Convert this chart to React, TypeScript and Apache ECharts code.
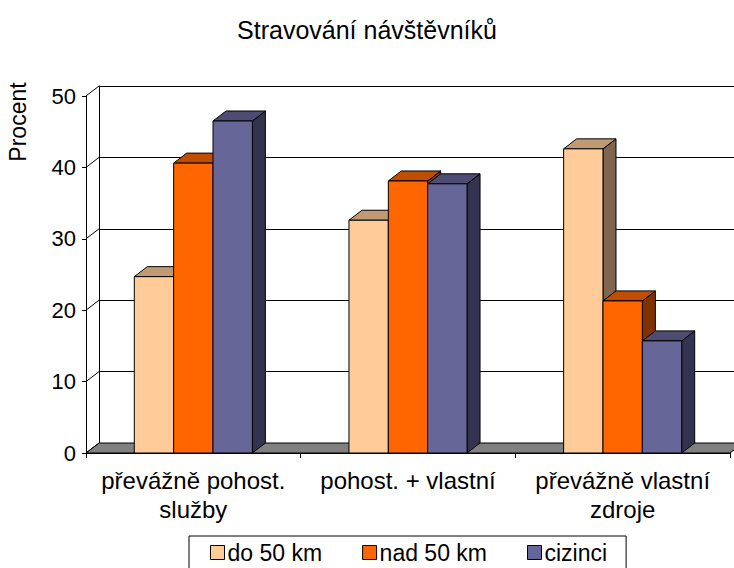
import React, { useEffect, useRef } from "react";
import * as echarts from "echarts";

const categories = ["převážně pohost.\nslužby", "pohost. + vlastní", "převážně vlastní\nzdroje"];
const seriesNames = ["do 50 km", "nad 50 km", "cizinci"];
const do50 = [24.7, 32.6, 42.6];
const nad50 = [40.6, 38.1, 21.3];
const cizinci = [46.5, 37.7, 15.7];
const yTicks = [0, 10, 20, 30, 40, 50];

const palette = [
  { front: "#FFCC99", top: "#C09A73", side: "#806650" },
  { front: "#FF6600", top: "#C04D00", side: "#803300" },
  { front: "#666699", top: "#4D4D73", side: "#333350" },
];

const DX = 13;
const DY = -10;
const GAP = 0.45;
const FONT = "Liberation Sans, Arial, sans-serif";

function barSeries(name: string, values: number[], idx: number) {
  const c = palette[idx];
  return {
    type: "custom",
    name,
    xAxisIndex: 1,
    yAxisIndex: 1,
    z: 4,
    itemStyle: { color: c.front, borderColor: "#000", borderWidth: 1 },
    data: values.map((v, i) => [i, v]),
    encode: { x: 0, y: 1 },
    renderItem: (params: any, api: any) => {
      const i = api.value(0);
      const v = api.value(1);
      const top = api.coord([i, v]);
      const base = api.coord([i, 0]);
      const band = api.size([1, 0])[0];
      const bw = (band * (1 - GAP)) / 3;
      const x0 = top[0] - 1.5 * bw + idx * bw;
      const yT = top[1];
      const yB = base[1];
      const st = { stroke: "#000", lineWidth: 1 };
      return {
        type: "group",
        children: [
          {
            type: "polygon",
            shape: { points: [[x0 + bw, yT], [x0 + bw + DX, yT + DY], [x0 + bw + DX, yB + DY], [x0 + bw, yB]] },
            style: { fill: c.side, ...st },
          },
          {
            type: "polygon",
            shape: { points: [[x0, yT], [x0 + bw, yT], [x0 + bw + DX, yT + DY], [x0 + DX, yT + DY]] },
            style: { fill: c.top, ...st },
          },
          {
            type: "rect",
            shape: { x: x0, y: yT, width: bw, height: yB - yT },
            style: { fill: c.front, ...st },
          },
        ],
      };
    },
  };
}

export default function App() {
  const ref = useRef<HTMLDivElement>(null);
  useEffect(() => {
    if (!ref.current) return;
    const chart = echarts.init(ref.current, null, { renderer: "svg" });
    const option: any = {
      animation: false,
      backgroundColor: "#fff",
      textStyle: { fontFamily: FONT },
      title: {
        text: "Stravování návštěvníků",
        left: "center",
        top: 12,
        textStyle: { fontFamily: FONT, fontSize: 25, fontWeight: "normal", color: "#000" },
      },
      legend: {
        data: seriesNames,
        left: 189,
        top: 536,
        orient: "horizontal",
        icon: "rect",
        itemWidth: 14,
        itemHeight: 14,
        itemGap: 40,
        borderColor: "#000",
        borderWidth: 1,
        padding: [5, 19, 14, 21],
        itemStyle: { borderColor: "#000", borderWidth: 1 },
        textStyle: { fontFamily: FONT, fontSize: 23, color: "#000", padding: [0, 0, 0, -2] },
      },
      grid: [
        { left: 99, top: 86, width: 644, height: 357, containLabel: false },
        { left: 86, top: 96, width: 644, height: 357, containLabel: false },
      ],
      xAxis: [
        { type: "category", gridIndex: 0, data: categories, show: false },
        {
          type: "category",
          gridIndex: 1,
          data: categories,
          axisLine: { show: true, lineStyle: { color: "#000", width: 1 } },
          axisTick: { show: true, length: 5, lineStyle: { color: "#000" } },
          axisLabel: { interval: 0, fontFamily: FONT, fontSize: 24, lineHeight: 29, color: "#000", margin: 13 },
        },
      ],
      yAxis: [
        {
          type: "value",
          gridIndex: 0,
          min: 0,
          max: 50,
          interval: 10,
          axisLine: { show: true, lineStyle: { color: "#000", width: 1 } },
          axisTick: { show: false },
          axisLabel: { show: false },
          splitLine: { show: true, lineStyle: { color: "#000", width: 1 } },
        },
        {
          type: "value",
          gridIndex: 1,
          min: 0,
          max: 50,
          interval: 10,
          axisLine: { show: true, lineStyle: { color: "#000", width: 1 } },
          axisTick: { show: true, length: 4, lineStyle: { color: "#000" } },
          axisLabel: { fontFamily: FONT, fontSize: 22, color: "#000", margin: 10 },
          splitLine: { show: false },
        },
      ],
      graphic: [
        {
          type: "text",
          x: 18,
          y: 122,
          rotation: Math.PI / 2,
          style: {
            text: "Procent",
            fontFamily: FONT,
            fontSize: 23,
            fill: "#000",
            textAlign: "center",
            textVerticalAlign: "middle",
          },
        },
      ],
      series: [
        {
          type: "custom",
          name: "floor",
          xAxisIndex: 1,
          yAxisIndex: 1,
          z: 2,
          silent: true,
          data: [[0, 0]],
          renderItem: (params: any, api: any) => {
            const cs = params.coordSys;
            const yb = cs.y + cs.height;
            return {
              type: "polygon",
              shape: {
                points: [
                  [cs.x, yb],
                  [cs.x + cs.width, yb],
                  [cs.x + cs.width + DX, yb + DY],
                  [cs.x + DX, yb + DY],
                ],
              },
              style: { fill: "#808080", stroke: "#000", lineWidth: 1 },
            };
          },
        },
        {
          type: "custom",
          name: "wall",
          xAxisIndex: 1,
          yAxisIndex: 1,
          z: 2,
          silent: true,
          data: yTicks.map((v) => [0, v]),
          renderItem: (params: any, api: any) => {
            const cs = params.coordSys;
            const y = api.coord([0, api.value(1)])[1];
            return {
              type: "line",
              shape: { x1: cs.x, y1: y, x2: cs.x + DX, y2: y + DY },
              style: { stroke: "#000", lineWidth: 1 },
            };
          },
        },
        barSeries(seriesNames[0], do50, 0),
        barSeries(seriesNames[1], nad50, 1),
        barSeries(seriesNames[2], cizinci, 2),
      ],
    };
    chart.setOption(option);
    return () => chart.dispose();
  }, []);
  return (
    <div
      ref={ref}
      style={{ position: "absolute", left: 0, top: 0, width: 734, height: 568 }}
    />
  );
}
